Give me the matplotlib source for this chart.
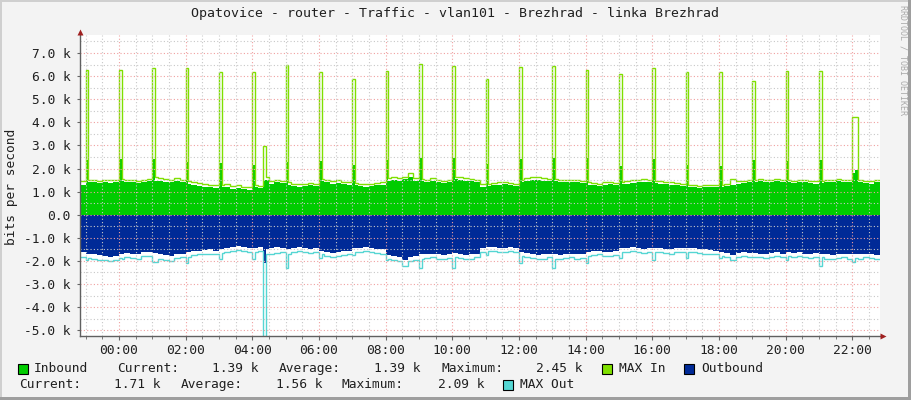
import numpy as np
import matplotlib
matplotlib.use("Agg")
import matplotlib.pyplot as plt
from matplotlib.patches import Rectangle

W, H = 911, 400
T_START = -70 / 60.0          # 22:50 of the previous day, hours from midnight
T_END = T_START + 24

# 10 minute averages (k bits/s), first value is 22:50, then one row per hour 23:00 .. 22:00
in_base = [1.28,
    1.42, 1.40, 1.38, 1.40, 1.37, 1.40,
    1.45, 1.42, 1.40, 1.36, 1.40, 1.44,
    1.48, 1.45, 1.42, 1.40, 1.44, 1.40,
    1.35, 1.30, 1.25, 1.22, 1.18, 1.15,
    1.20, 1.18, 1.12, 1.15, 1.10, 1.08,
    1.20, 1.15, 1.52, 1.35, 1.40, 1.38,
    1.30, 1.25, 1.22, 1.25, 1.28, 1.24,
    1.45, 1.40, 1.35, 1.38, 1.32, 1.30,
    1.28, 1.25, 1.22, 1.25, 1.28, 1.30,
    1.45, 1.50, 1.48, 1.55, 1.62, 1.48,
    1.45, 1.42, 1.45, 1.40, 1.38, 1.40,
    1.55, 1.50, 1.48, 1.45, 1.40, 1.22,
    1.25, 1.28, 1.30, 1.32, 1.28, 1.25,
    1.42, 1.45, 1.50, 1.52, 1.48, 1.45,
    1.45, 1.43, 1.42, 1.40, 1.42, 1.38,
    1.30, 1.28, 1.25, 1.30, 1.32, 1.28,
    1.32, 1.35, 1.38, 1.40, 1.42, 1.40,
    1.38, 1.35, 1.32, 1.30, 1.28, 1.25,
    1.20, 1.18, 1.15, 1.18, 1.20, 1.18,
    1.20, 1.25, 1.30, 1.35, 1.38, 1.40,
    1.42, 1.45, 1.40, 1.42, 1.45, 1.40,
    1.40, 1.38, 1.42, 1.40, 1.38, 1.35,
    1.38, 1.40, 1.42, 1.45, 1.40, 1.42,
    1.93, 1.42, 1.38, 1.35, 1.40]

max_in_base = [1.45,
    1.52, 1.50, 1.47, 1.50, 1.52, 1.50,
    1.55, 1.52, 1.50, 1.48, 1.52, 1.55,
    1.62, 1.58, 1.55, 1.52, 1.58, 1.52,
    1.48, 1.42, 1.38, 1.32, 1.30, 1.28,
    1.30, 1.32, 1.25, 1.28, 1.22, 1.18,
    1.30, 1.25, 1.62, 1.48, 1.52, 1.48,
    1.40, 1.35, 1.32, 1.35, 1.38, 1.35,
    1.55, 1.52, 1.45, 1.50, 1.42, 1.40,
    1.38, 1.35, 1.32, 1.35, 1.38, 1.40,
    1.58, 1.62, 1.60, 1.65, 1.82, 1.58,
    1.55, 1.52, 1.58, 1.50, 1.48, 1.50,
    1.65, 1.62, 1.58, 1.55, 1.50, 1.32,
    1.35, 1.38, 1.40, 1.42, 1.38, 1.35,
    1.52, 1.58, 1.62, 1.65, 1.58, 1.55,
    1.55, 1.52, 1.52, 1.50, 1.52, 1.48,
    1.40, 1.38, 1.35, 1.40, 1.42, 1.38,
    1.42, 1.45, 1.50, 1.52, 1.55, 1.50,
    1.48, 1.45, 1.42, 1.40, 1.38, 1.35,
    1.30, 1.28, 1.25, 1.28, 1.30, 1.28,
    1.30, 1.35, 1.55, 1.45, 1.48, 1.50,
    1.52, 1.55, 1.50, 1.52, 1.55, 1.50,
    1.50, 1.48, 1.52, 1.50, 1.48, 1.45,
    1.48, 1.50, 1.52, 1.55, 1.50, 1.52,
    4.23, 1.52, 1.48, 1.45, 1.50]

out_base = [-1.62,
    -1.68, -1.72, -1.75, -1.80, -1.85, -1.78,
    -1.70, -1.65, -1.68, -1.72, -1.62, -1.60,
    -1.65, -1.70, -1.75, -1.80, -1.72, -1.68,
    -1.62, -1.58, -1.55, -1.52, -1.50, -1.55,
    -1.48, -1.42, -1.38, -1.35, -1.40, -1.45,
    -1.45, -1.40, -1.50, -1.45, -1.38, -1.42,
    -1.50, -1.45, -1.40, -1.42, -1.48, -1.45,
    -1.55, -1.60, -1.65, -1.62, -1.58, -1.55,
    -1.45, -1.42, -1.40, -1.45, -1.48, -1.50,
    -1.75, -1.80, -1.85, -1.95, -1.82, -1.78,
    -1.72, -1.70, -1.68, -1.72, -1.75, -1.70,
    -1.65, -1.70, -1.75, -1.72, -1.68, -1.45,
    -1.40, -1.38, -1.42, -1.45, -1.40, -1.42,
    -1.60, -1.65, -1.70, -1.75, -1.72, -1.68,
    -1.72, -1.75, -1.70, -1.68, -1.72, -1.70,
    -1.62, -1.58, -1.55, -1.60, -1.62, -1.58,
    -1.45, -1.42, -1.40, -1.45, -1.48, -1.45,
    -1.42, -1.45, -1.48, -1.50, -1.45, -1.42,
    -1.42, -1.45, -1.48, -1.50, -1.52, -1.55,
    -1.62, -1.65, -1.75, -1.65, -1.62, -1.65,
    -1.65, -1.68, -1.70, -1.65, -1.62, -1.68,
    -1.60, -1.65, -1.62, -1.68, -1.70, -1.65,
    -1.68, -1.72, -1.75, -1.70, -1.68, -1.72,
    -1.70, -1.72, -1.68, -1.70, -1.75]

max_out_base = [-1.85,
    -1.88, -1.90, -1.95, -1.98, -2.00, -1.95,
    -1.90, -1.85, -1.88, -1.92, -1.80, -1.78,
    -2.05, -1.90, -1.95, -2.00, -1.88, -1.85,
    -1.82, -1.75, -1.72, -1.70, -1.68, -1.72,
    -1.65, -1.60, -1.55, -1.52, -1.58, -1.62,
    -1.62, -1.58, -1.70, -1.72, -1.65, -1.60,
    -1.70, -1.62, -1.58, -1.60, -1.65, -1.62,
    -1.72, -1.78, -1.82, -1.80, -1.75, -1.72,
    -1.62, -1.60, -1.58, -1.62, -1.65, -1.68,
    -1.92, -1.98, -2.02, -2.22, -2.00, -1.95,
    -1.90, -1.88, -1.85, -1.90, -1.92, -1.88,
    -1.85, -1.88, -1.92, -1.90, -1.85, -1.62,
    -1.58, -1.55, -1.60, -1.62, -1.58, -1.60,
    -1.78, -1.82, -1.88, -1.92, -1.90, -1.85,
    -1.90, -1.92, -1.88, -1.85, -1.90, -1.88,
    -1.80, -1.75, -1.72, -1.78, -1.80, -1.75,
    -1.62, -1.60, -1.58, -1.62, -1.65, -1.62,
    -1.60, -1.62, -1.65, -1.68, -1.62, -1.60,
    -1.60, -1.62, -1.65, -1.68, -1.70, -1.72,
    -1.80, -1.82, -1.95, -1.82, -1.80, -1.82,
    -1.82, -1.85, -1.88, -1.82, -1.80, -1.85,
    -1.78, -1.82, -1.80, -1.85, -1.88, -1.82,
    -1.85, -1.90, -1.92, -1.88, -1.85, -1.90,
    -1.88, -1.90, -1.85, -1.88, -1.92]

# 5 minute values right after every full hour (23:00 .. 22:00)
spike_hours = list(range(-1, 23))
in_spike = [2.37, 2.41, 2.41, 2.29, 2.25, 2.17, 2.29, 2.34, 2.15, 2.37, 2.45, 2.45,
            2.19, 2.40, 2.45, 2.45, 2.11, 2.40, 2.15, 2.11, 2.37, 2.32, 2.37, 1.80]
max_in_spike = [6.26, 6.26, 6.34, 6.34, 6.16, 6.16, 6.47, 6.18, 5.87, 6.20, 6.52, 6.43,
                5.87, 6.39, 6.43, 6.26, 6.09, 6.35, 6.18, 6.18, 5.79, 6.22, 6.22, 4.23]
max_out_spike = [-1.96, -1.89, -2.03, -2.10, -1.92, -1.92, -2.32, -1.89, -1.75, -1.95, -2.32, -2.32,
                 -1.75, -2.10, -2.32, -2.10, -1.89, -1.96, -1.89, -1.89, -1.82, -1.96, -2.22, -2.03]

# burst at 04:20
burst_hour = 4 + 20 / 60.0
burst_in, burst_max_in, burst_out, burst_max_out = 1.52, 2.97, -2.08, -6.50

in_stats = ["1.39 k", "1.39 k", "2.45 k"]
out_stats = ["1.71 k", "1.56 k", "2.09 k"]

C_IN, C_MAXIN, C_OUT, C_MAXOUT = "#00CC00", "#7FE000", "#002A97", "#55D6D3"
MONO = "DejaVu Sans Mono"


def slot(h):
    return int(round((h - T_START) * 12))


def to5(base):
    return np.repeat(np.asarray(base, dtype=float), 2)


inb, maxin, outb, maxout = to5(in_base), to5(max_in_base), to5(out_base), to5(max_out_base)
for h, a, b, c in zip(spike_hours, in_spike, max_in_spike, max_out_spike):
    inb[slot(h)] = a
    maxin[slot(h)] = b
    maxout[slot(h)] = c
s = slot(burst_hour)
inb[s], maxin[s], outb[s], maxout[s] = burst_in, burst_max_in, burst_out, burst_max_out
edges = T_START + np.arange(len(inb) + 1) / 12.0

fig = plt.figure(figsize=(W / 100, H / 100), dpi=100, facecolor="#F3F3F3")
ax = fig.add_axes([80 / W, (H - 336) / H, 800 / W, 301 / H])
ax.set_facecolor("white")

ax.stairs(inb, edges, baseline=0, fill=True, color=C_IN, lw=0, zorder=1)
ax.stairs(maxin, edges, baseline=None, color=C_MAXIN, lw=1, zorder=2)
ax.stairs(outb, edges, baseline=0, fill=True, color=C_OUT, lw=0, zorder=1)
ax.stairs(maxout, edges, baseline=None, color=C_MAXOUT, lw=1, zorder=2)

ax.set_xlim(T_START, T_END)
ax.set_ylim(-5.25, 7.78)

# grid on top like rrdtool
for y in np.arange(-5, 7.6, 0.5):
    major = abs(y - round(y)) < 1e-6
    ax.axhline(y, color="#F0A0A0" if major else "#C8C8C8", lw=0.8,
               ls=(0, (1, 2)), zorder=3)
for x in np.arange(-1.0, 22.9, 0.5):
    major = abs(x / 2 - round(x / 2)) < 1e-6
    ax.axvline(x, color="#F0A0A0" if major else "#C8C8C8", lw=0.8,
               ls=(0, (1, 2)), zorder=3)

yt = list(range(-5, 8))
ax.set_yticks(yt)
ax.set_yticklabels(["0.0" if v == 0 else "%.1f k" % v for v in yt])
ax.set_yticks(np.arange(-5, 7.6, 0.5), minor=True)
xt = list(range(0, 23, 2))
ax.set_xticks(xt)
ax.set_xticklabels(["%02d:00" % v for v in xt])
ax.set_xticks(np.arange(-1.0, 22.9, 0.5), minor=True)
ax.tick_params(which="both", direction="out", color="#666666", labelsize=9.3,
               labelcolor="#202020")
ax.tick_params(axis="x", which="major", length=3, pad=2.5)
ax.tick_params(axis="x", which="minor", length=2)
ax.tick_params(axis="y", which="major", length=2, pad=5)
ax.tick_params(axis="y", which="minor", length=0)
for lab in ax.get_xticklabels() + ax.get_yticklabels():
    lab.set_family(MONO)

for sp in ("top", "right"):
    ax.spines[sp].set_visible(False)
for sp in ("left", "bottom"):
    ax.spines[sp].set_color("#606060")
    ax.spines[sp].set_linewidth(1)
    ax.spines[sp].set_zorder(4)
ax.plot([1.004], [0], marker=">", color="#A02020", ms=4, mec="none",
        transform=ax.transAxes, clip_on=False, zorder=5)
ax.plot([0], [1.01], marker="^", color="#A02020", ms=4, mec="none",
        transform=ax.transAxes, clip_on=False, zorder=5)


def ftext(x, y, txt, ha="left", **kw):
    fig.text(x / W, 1 - y / H, txt, ha=ha, va="center", family=MONO, **kw)


def swatch(x, y, color):
    fig.add_artist(Rectangle((x / W, 1 - (y + 10) / H), 10 / W, 10 / H,
                             transform=fig.transFigure, facecolor=color,
                             edgecolor="black", lw=0.8))


ftext(455, 14, "Opatovice - router - Traffic - vlan101 - Brezhrad - linka Brezhrad",
      ha="center", fontsize=9.5, color="#202020")
fig.text(12 / W, 1 - 187 / H, "bits per second", rotation=90, ha="center",
         va="center", family=MONO, fontsize=9.3, color="#202020")
fig.text(903 / W, 1 - 60 / H, "RRDTOOL / TOBI OETIKER", rotation=270, ha="center",
         va="center", family=MONO, fontsize=6, color="#AAAAAA")

r1, r2 = 368.5, 384.5
fs = dict(fontsize=9.3, color="#202020")
swatch(17.5, r1 - 5, C_IN)
ftext(34, r1, "Inbound", **fs)
ftext(117, r1, "Current:", **fs)
ftext(258, r1, in_stats[0], ha="right", **fs)
ftext(279, r1, "Average:", **fs)
ftext(420, r1, in_stats[1], ha="right", **fs)
ftext(441, r1, "Maximum:", **fs)
ftext(582, r1, in_stats[2], ha="right", **fs)
swatch(602, r1 - 5, C_MAXIN)
ftext(619, r1, "MAX In", **fs)
swatch(684, r1 - 5, C_OUT)
ftext(701, r1, "Outbound", **fs)

ftext(19, r2, "Current:", **fs)
ftext(161, r2, out_stats[0], ha="right", **fs)
ftext(181, r2, "Average:", **fs)
ftext(323, r2, out_stats[1], ha="right", **fs)
ftext(342, r2, "Maximum:", **fs)
ftext(485, r2, out_stats[2], ha="right", **fs)
swatch(503, r2 - 5, C_MAXOUT)
ftext(520, r2, "MAX Out", **fs)

# rrdtool style shaded frame
fig.add_artist(Rectangle((0, 1 - 2 / H), 1, 2 / H, transform=fig.transFigure,
                         facecolor="#CFCFCF", lw=0))
fig.add_artist(Rectangle((0, 0), 2 / W, 1, transform=fig.transFigure,
                         facecolor="#CFCFCF", lw=0))
fig.add_artist(Rectangle((0, 0), 1, 3 / H, transform=fig.transFigure,
                         facecolor="#9E9E9E", lw=0))
fig.add_artist(Rectangle((1 - 3 / W, 0), 3 / W, 1, transform=fig.transFigure,
                         facecolor="#9E9E9E", lw=0))

fig.savefig("out.png", dpi=100, facecolor=fig.get_facecolor())
